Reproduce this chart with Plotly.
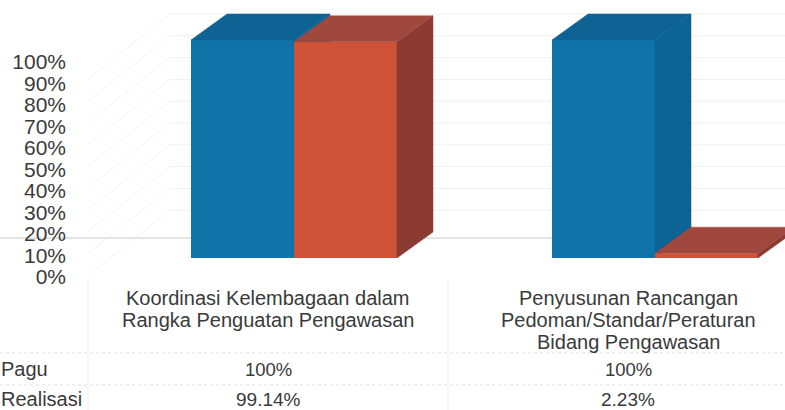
import plotly.graph_objects as go

categories = ["Koordinasi Kelembagaan dalam<br>Rangka Penguatan Pengawasan",
              "Penyusunan Rancangan<br>Pedoman/Standar/Peraturan<br>Bidang Pengawasan"]
pagu = [100, 100]
realisasi = [99.14, 2.23]
series_names = ["Pagu", "Realisasi"]
tick_values = list(range(0, 101, 10))

W, H = 785, 410
X_PX = 361.0          # px per category
Y_PX = 2.18           # px per percent on the bar scale
x_range = [(0 - 294) / X_PX, (W - 294) / X_PX]
y_range = [-(H - 258) / Y_PX, 100 + 40 / Y_PX]
lab_px = 2.15
lab_range = [-(H - 277) / lab_px, 100 + 62 / lab_px]
BW = 103 / X_PX
DX, DY = 36 / X_PX, 26 / Y_PX
INK = "#3a3a3a"
FONT = "Liberation Sans"

fig = go.Figure()


def poly(xs, ys, color, xa, ya):
    fig.add_trace(go.Scatter(x=xs + xs[:1], y=ys + ys[:1], mode="lines", fill="toself",
                             fillcolor=color, line=dict(color=color, width=0.5),
                             hoverinfo="skip", showlegend=False, xaxis=xa, yaxis=ya))


def cuboids(values, offset, front, top, side, xa, ya, name):
    xs = list(range(len(values)))
    fig.add_trace(go.Bar(x=xs, y=values, width=BW, offset=offset, marker=dict(color=front, line=dict(width=0)),
                         name=name, showlegend=False, xaxis=xa, yaxis=ya))
    for i, v in enumerate(values):
        l, r = i + offset, i + offset + BW
        poly([r, r + DX, r + DX, r], [0, DY, v + DY, v], side, xa, ya)
        poly([l, l + DX, r + DX, r], [v, v + DY, v + DY, v], top, xa, ya)


# invisible trace that keeps the tick-label axis alive
fig.add_trace(go.Scatter(x=[0], y=[0], mode="markers", marker=dict(opacity=0), hoverinfo="skip",
                         showlegend=False, xaxis="x", yaxis="y"))
cuboids(pagu, -BW, "#1174a8", "#0f6294", "#0c6396", "x2", "y2", series_names[0])
cuboids(realisasi, 0, "#cd5237", "#a0483e", "#8c3b33", "x3", "y3", series_names[1])

shapes = []
GRID = "#f0f0f0"
# back wall lines
for t in tick_values[1:]:
    shapes.append(dict(type="line", layer="below", xref="paper", yref="y2", x0=170 / W, x1=1,
                       y0=t + DY, y1=t + DY, line=dict(color=GRID, width=1)))
# side wall diagonals
for t in tick_values[1:]:
    y1 = t + DY
    shapes.append(dict(type="line", layer="below", xref="paper", yref="y2", x0=88 / W, x1=170 / W,
                       y0=y1 - 65 / Y_PX, y1=y1, line=dict(color="#f3f3f3", width=1)))
# floor line
shapes.append(dict(type="line", layer="below", xref="paper", yref="paper", x0=0, x1=1,
                   y0=1 - 238 / H, y1=1 - 238 / H, line=dict(color="#c9c9c9", width=1)))
# data table rules
for py in (353, 385):
    shapes.append(dict(type="line", layer="below", xref="paper", yref="paper", x0=0, x1=1,
                       y0=1 - py / H, y1=1 - py / H, line=dict(color="#dcdcdc", width=1, dash="dot")))
for px in (88, 448):
    shapes.append(dict(type="line", layer="below", xref="paper", yref="paper", x0=px / W, x1=px / W,
                       y0=0, y1=1 - 280 / H, line=dict(color="#eeeeee", width=1)))

annotations = []


def note(x, py, text, size, anchor="center"):
    annotations.append(dict(x=x, y=1 - py / H, xref="paper", yref="paper", text=text, showarrow=False,
                            xanchor=anchor, yanchor="middle", align="center",
                            font=dict(family=FONT, size=size, color=INK)))


CENTERS = [268 / W, 628 / W]
for c, label, p, r in zip(CENTERS, categories, pagu, realisasi):
    for n, line in enumerate(label.split("<br>")):
        note(c, 298 + 22 * n, line, 20)
    note(c, 369, f"{p}%", 18.5)
    note(c, 399, f"{r}%", 19)
note(-1.5 / W, 369, series_names[0], 20, "left")
note(-1.5 / W, 399, series_names[1], 20, "left")

hidden = dict(visible=False, fixedrange=True)
fig.update_layout(
    width=W, height=H, margin=dict(l=0, r=0, t=0, b=0), autosize=False,
    paper_bgcolor="white", plot_bgcolor="rgba(0,0,0,0)", showlegend=False, barmode="overlay",
    shapes=shapes, annotations=annotations, font=dict(family=FONT, color=INK),
    xaxis=dict(range=x_range, domain=[0, 1], **hidden),
    xaxis2=dict(range=x_range, overlaying="x", **hidden),
    xaxis3=dict(range=x_range, overlaying="x", **hidden),
    yaxis=dict(range=lab_range, domain=[0, 1], anchor="free", position=66 / W, tickmode="array",
               tickvals=tick_values, ticktext=[f"{t}%" for t in tick_values], showgrid=False,
               zeroline=False, showline=False, ticks="", tickfont=dict(family=FONT, size=21, color=INK),
               automargin=False),
    yaxis2=dict(range=y_range, overlaying="y", **hidden),
    yaxis3=dict(range=y_range, overlaying="y", **hidden),
)
fig.write_html("out.html", config=dict(displayModeBar=False),
               post_script="document.body.style.margin='0';document.body.style.overflow='hidden';")
